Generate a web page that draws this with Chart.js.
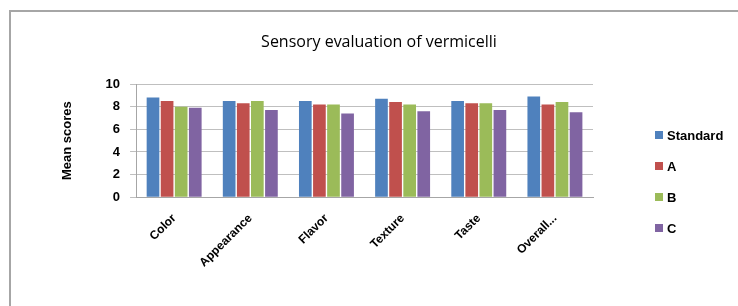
<!DOCTYPE html>
<html>
<head>
<meta charset="utf-8">
<script src="https://cdn.jsdelivr.net/npm/chart.js@4/dist/chart.umd.min.js"></script>
<style>
  html, body { margin: 0; padding: 0; background: #fff; }
  #wrap { position: relative; width: 738px; height: 306px; }
</style>
</head>
<body>
<div id="wrap"><canvas id="chart" width="738" height="306"></canvas></div>
<script>
// categories and scores
const categories = ['Color', 'Appearance', 'Flavor', 'Texture', 'Taste', 'Overall...'];
const standard = [8.8, 8.5, 8.5, 8.7, 8.5, 8.9];
const sampleA  = [8.5, 8.3, 8.2, 8.4, 8.3, 8.2];
const sampleB  = [8.0, 8.5, 8.2, 8.2, 8.3, 8.4];
const sampleC  = [7.9, 7.7, 7.4, 7.6, 7.7, 7.5];
const yTicks   = [0, 2, 4, 6, 8, 10];
const titre = 'Sensory evaluation of vermicelli';

const couleurs = ['#4F81BD', '#C0504D', '#9BBB59', '#8064A2'];
const police = 'Liberation Sans, Arial, sans-serif';
const bold = { family: police, size: 12, weight: 'bold' };

// frame around the whole picture + title centred on the whole frame
const cadre = {
  id: 'cadre',
  beforeDraw(chart) {
    const c = chart.ctx;
    c.save();
    c.fillStyle = '#fff';
    c.fillRect(0, 0, chart.width, chart.height);
    c.strokeStyle = '#a6a6a6';
    c.lineWidth = 2;
    c.beginPath();
    c.moveTo(10, chart.height);
    c.lineTo(10, 11);
    c.lineTo(chart.width, 11);
    c.stroke();
    c.font = '16px "Open Sans", sans-serif';
    c.fillStyle = '#000';
    c.textAlign = 'center';
    c.textBaseline = 'middle';
    c.fillText(titre, 379, 42);
    c.restore();
  }
};

// legend drawn on the right, lower than the plot like the original
const legende = {
  id: 'legende',
  afterDraw(chart) {
    const c = chart.ctx;
    c.save();
    c.font = 'bold 13px ' + police;
    c.textBaseline = 'middle';
    chart.data.datasets.forEach((ds, i) => {
      const y = 135 + i * 31;
      c.fillStyle = ds.backgroundColor;
      c.fillRect(655, y - 4, 8, 8);
      c.fillStyle = '#000';
      c.fillText(ds.label, 667, y + 1);
    });
    c.restore();
  }
};

function serie(label, data, i) {
  return {
    label: label,
    data: data,
    backgroundColor: couleurs[i],
    borderColor: couleurs[i],
    borderWidth: 0,
    barPercentage: 0.9,
    categoryPercentage: 0.74
  };
}

new Chart(document.getElementById('chart'), {
  type: 'bar',
  data: {
    labels: categories,
    datasets: [
      serie('Standard', standard, 0),
      serie('A', sampleA, 1),
      serie('B', sampleB, 2),
      serie('C', sampleC, 3)
    ]
  },
  options: {
    responsive: false,
    animation: false,
    layout: { padding: { left: 58, right: 145, top: 84, bottom: 30 } },
    plugins: {
      title: { display: false },
      legend: { display: false },
      tooltip: { enabled: false }
    },
    scales: {
      x: {
        grid: { display: false },
        border: { color: '#a6a6a6' },
        ticks: {
          color: '#000',
          font: bold,
          minRotation: 45,
          maxRotation: 45,
          padding: 6
        }
      },
      y: {
        min: 0,
        max: 10,
        afterBuildTicks(axis) { axis.ticks = yTicks.map(v => ({ value: v })); },
        grid: { color: '#bfbfbf', tickLength: 6 },
        border: { color: '#a6a6a6' },
        ticks: { color: '#000', font: { ...bold, size: 13 }, padding: 10 },
        title: {
          display: true,
          text: 'Mean scores',
          color: '#000',
          font: { ...bold, size: 13 },
          padding: { top: 2, bottom: 20 }
        }
      }
    }
  },
  plugins: [cadre, legende]
});
</script>
</body>
</html>
